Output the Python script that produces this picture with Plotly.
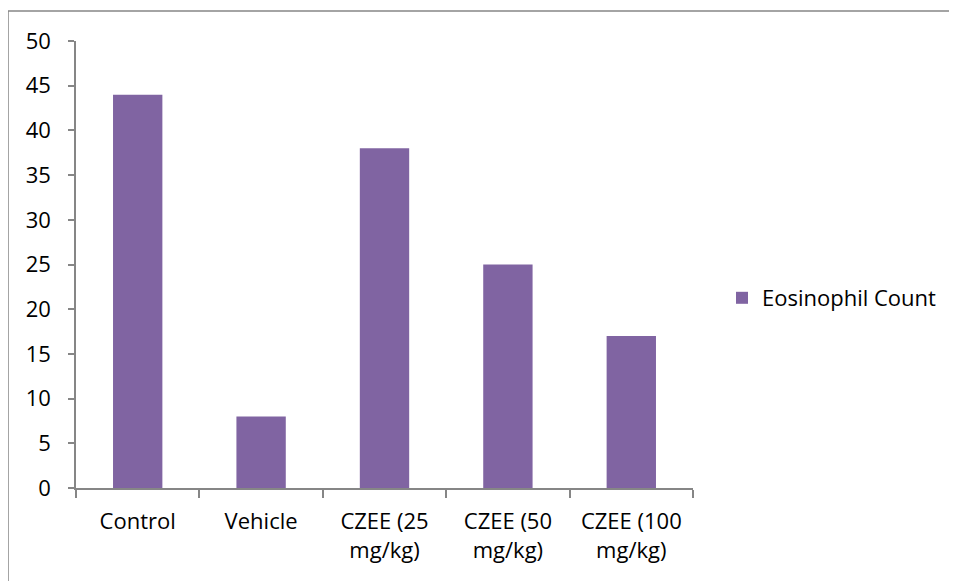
import plotly.graph_objects as go

categories = ["Control", "Vehicle", "CZEE (25<br>mg/kg)", "CZEE (50<br>mg/kg)", "CZEE (100<br>mg/kg)"]
eosinophil = [44, 8, 38, 25, 17]
y_ticks = list(range(0, 55, 5))

# page body has an 8px margin, so figure coords = screen coords - 8
W, H = 957, 581
L, R, T, B = 68, 272, 33, 101
pw, ph = W - L - R, H - T - B

AXIS_GREY = "#868686"
FONT = dict(family="Open Sans, Arial, sans-serif", size=22, color="#000000")

fig = go.Figure(go.Bar(
    x=categories, y=eosinophil, name="Eosinophil Count",
    marker=dict(color="#8064A2", line=dict(width=0)),
))


def px_x(p):
    return (p - L) / pw


def px_y(p):
    return (H - B - p) / ph


fig.update_layout(
    width=W, height=H,
    margin=dict(l=L, r=R, t=T, b=B),
    paper_bgcolor="white", plot_bgcolor="white",
    font=FONT,
    bargap=0.6,
    showlegend=True,
    legend=dict(x=px_x(714), y=px_y(290), xanchor="left", yanchor="middle",
                font=FONT, bgcolor="rgba(0,0,0,0)"),
    xaxis=dict(showline=True, linecolor=AXIS_GREY, linewidth=1.5,
               ticks="outside", tickson="boundaries", ticklen=8, tickcolor=AXIS_GREY,
               tickwidth=1.5, showgrid=False, ticklabelstandoff=13),
    yaxis=dict(range=[0, 50], tickvals=y_ticks, showline=True, linecolor=AXIS_GREY,
               linewidth=1.5, ticks="outside", ticklen=6, tickcolor=AXIS_GREY, tickwidth=1.5,
               showgrid=False, zeroline=False, ticklabelstandoff=13),
    shapes=[dict(type="rect", xref="paper", yref="paper",
                 x0=px_x(0), x1=px_x(W + 20), y0=px_y(H + 20), y1=px_y(3),
                 line=dict(color=AXIS_GREY, width=1.5), layer="below")],
)

fig.write_html("out.html")
